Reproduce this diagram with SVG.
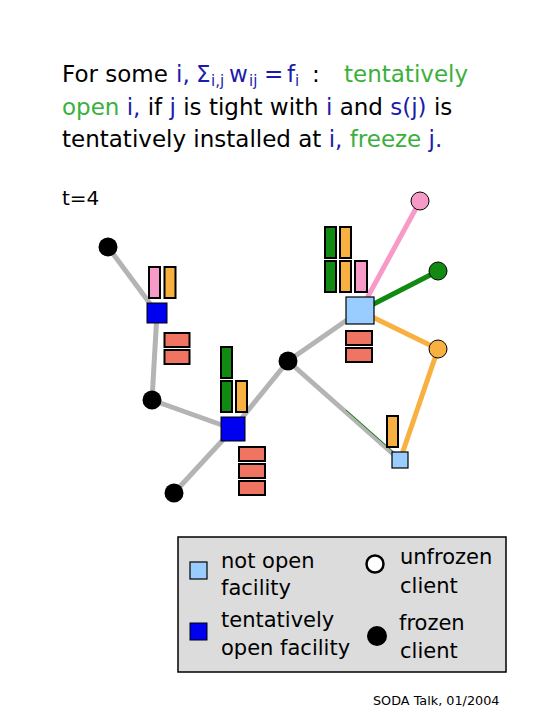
<svg xmlns="http://www.w3.org/2000/svg" width="540" height="720" viewBox="0 0 540 720">
<style>
text{font-family:"DejaVu Sans","Verdana",sans-serif;fill:#000}
.b{fill:#1c1caa}
.g{fill:#3cb03c}
.t{font-size:23px}
.sub{font-size:15px}
.lg{font-size:21px}
.bar{stroke:#000;stroke-width:2}
.pk{fill:#f79ac8}
.or{fill:#f8b040}
.gr{fill:#108a10}
.sa{fill:#f07462}
.sq1{fill:#0000f0;stroke:#000;stroke-width:1}
.sq0{fill:#99ccff;stroke:#000;stroke-width:1.2}
.fz{fill:#000}
.edge{stroke-width:5;fill:none;stroke-linecap:butt}
</style>
<rect width="540" height="720" fill="#fff"/>
<g id="title" class="t">
<text x="62" y="82">For some<tspan class="b" x="176">i,</tspan><tspan class="b" x="196">Σ</tspan><tspan class="b sub" x="211" y="86">i,j</tspan><tspan class="b" x="229" y="82">w</tspan><tspan class="b sub" x="249" y="86">ij</tspan><tspan class="b" x="264" y="82">=</tspan><tspan class="b" x="287">f</tspan><tspan class="b sub" x="295" y="86">i</tspan><tspan x="312" y="82">:</tspan><tspan class="g" x="344">tentatively</tspan></text>
<text x="62" y="115"><tspan class="g">open</tspan> <tspan class="b">i,</tspan> if <tspan class="b">j</tspan> is tight with <tspan class="b">i</tspan> and <tspan class="b">s(j)</tspan> is</text>
<text x="62" y="147">tentatively installed at <tspan class="b">i,</tspan><tspan class="g"> freeze</tspan><tspan class="b"> j.</tspan></text>
</g>
<text id="time" x="62" y="205" font-size="20">t=4</text>
<g id="connectors">
<line class="edge" stroke="#b4b4b4" x1="108" y1="247" x2="157" y2="313"/>
<line class="edge" stroke="#b4b4b4" x1="157" y1="313" x2="152" y2="400"/>
<line class="edge" stroke="#b4b4b4" x1="152" y1="400" x2="233" y2="429"/>
<line class="edge" stroke="#b4b4b4" x1="233" y1="429" x2="174" y2="493"/>
<line class="edge" stroke="#b4b4b4" x1="233" y1="429" x2="288" y2="361"/>
<line class="edge" stroke="#b4b4b4" x1="288" y1="361" x2="360" y2="311"/>
<line class="edge" stroke="#b4b4b4" x1="288" y1="361" x2="400" y2="460"/>
<line stroke="#108a10" stroke-width="1" x1="346" y1="410" x2="398" y2="456"/>
<line class="edge" stroke="#f79ac8" x1="360" y1="311" x2="420" y2="201"/>
<line class="edge" stroke="#108a10" x1="360" y1="311" x2="438" y2="271"/>
<line class="edge" stroke="#f8b040" x1="360" y1="311" x2="438" y2="349"/>
<line class="edge" stroke="#f8b040" x1="438" y1="349" x2="400" y2="460"/>
</g>
<g id="client-a"><circle class="fz" cx="108" cy="247" r="9.5"/></g>
<g id="client-b"><circle class="fz" cx="152" cy="400" r="9.5"/></g>
<g id="client-c"><circle class="fz" cx="174" cy="493" r="9.5"/></g>
<g id="client-d"><circle class="fz" cx="288" cy="361" r="9.5"/></g>
<g id="client-pink"><circle cx="420" cy="201" r="9" fill="#f79ac8" stroke="#000" stroke-width="1"/></g>
<g id="client-green"><circle cx="438" cy="271" r="9" fill="#108a10" stroke="#000" stroke-width="1"/></g>
<g id="client-orange"><circle cx="438" cy="349" r="9" fill="#f8b040" stroke="#000" stroke-width="1"/></g>
<g id="facility-1">
<rect class="bar pk" x="149" y="267" width="11" height="31"/>
<rect class="bar or" x="164.5" y="267" width="11" height="31"/>
<rect class="sq1" x="147" y="303" width="20" height="20"/>
<rect class="bar sa" x="164.5" y="333" width="25" height="14"/>
<rect class="bar sa" x="164.5" y="350" width="25" height="14"/>
</g>
<g id="facility-2">
<rect class="bar gr" x="221" y="347" width="11" height="31"/>
<rect class="bar gr" x="221" y="381" width="11" height="31"/>
<rect class="bar or" x="236" y="381" width="11" height="31"/>
<rect class="sq1" x="221" y="417" width="24" height="24"/>
<rect class="bar sa" x="239" y="447" width="26" height="14"/>
<rect class="bar sa" x="239" y="464" width="26" height="14"/>
<rect class="bar sa" x="239" y="481" width="26" height="14"/>
</g>
<g id="facility-3">
<rect class="bar gr" x="325" y="227" width="11" height="31"/>
<rect class="bar or" x="340" y="227" width="11" height="31"/>
<rect class="bar gr" x="325" y="261" width="11" height="31"/>
<rect class="bar or" x="340" y="261" width="11" height="31"/>
<rect class="bar pk" x="355" y="261" width="12" height="31"/>
<rect class="sq0" x="346" y="297" width="28" height="27"/>
<rect class="bar sa" x="346" y="331" width="26" height="14"/>
<rect class="bar sa" x="346" y="348" width="26" height="14"/>
</g>
<g id="facility-4">
<rect class="bar or" x="387" y="416" width="11" height="31"/>
<rect class="sq0" x="392" y="452" width="16" height="16"/>
</g>
<g id="legend">
<rect x="178" y="537" width="328" height="135" fill="#dcdcdc" stroke="#000" stroke-width="1.5"/>
<rect class="sq0" x="190" y="562" width="17" height="17"/>
<rect class="sq1" x="190" y="623" width="17" height="17"/>
<circle cx="375" cy="564" r="8.5" fill="#fff" stroke="#000" stroke-width="2.5"/>
<circle cx="377" cy="636" r="10" fill="#000"/>
<text class="lg" x="221" y="568">not open</text>
<text class="lg" x="221" y="595">facility</text>
<text class="lg" x="221" y="627">tentatively</text>
<text class="lg" x="221" y="655">open facility</text>
<text class="lg" x="400" y="564">unfrozen</text>
<text class="lg" x="400" y="593">client</text>
<text class="lg" x="399" y="630">frozen</text>
<text class="lg" x="400" y="658">client</text>
</g>
<text id="footer" x="373" y="705" font-size="12.8">SODA Talk, 01/2004</text>
</svg>
